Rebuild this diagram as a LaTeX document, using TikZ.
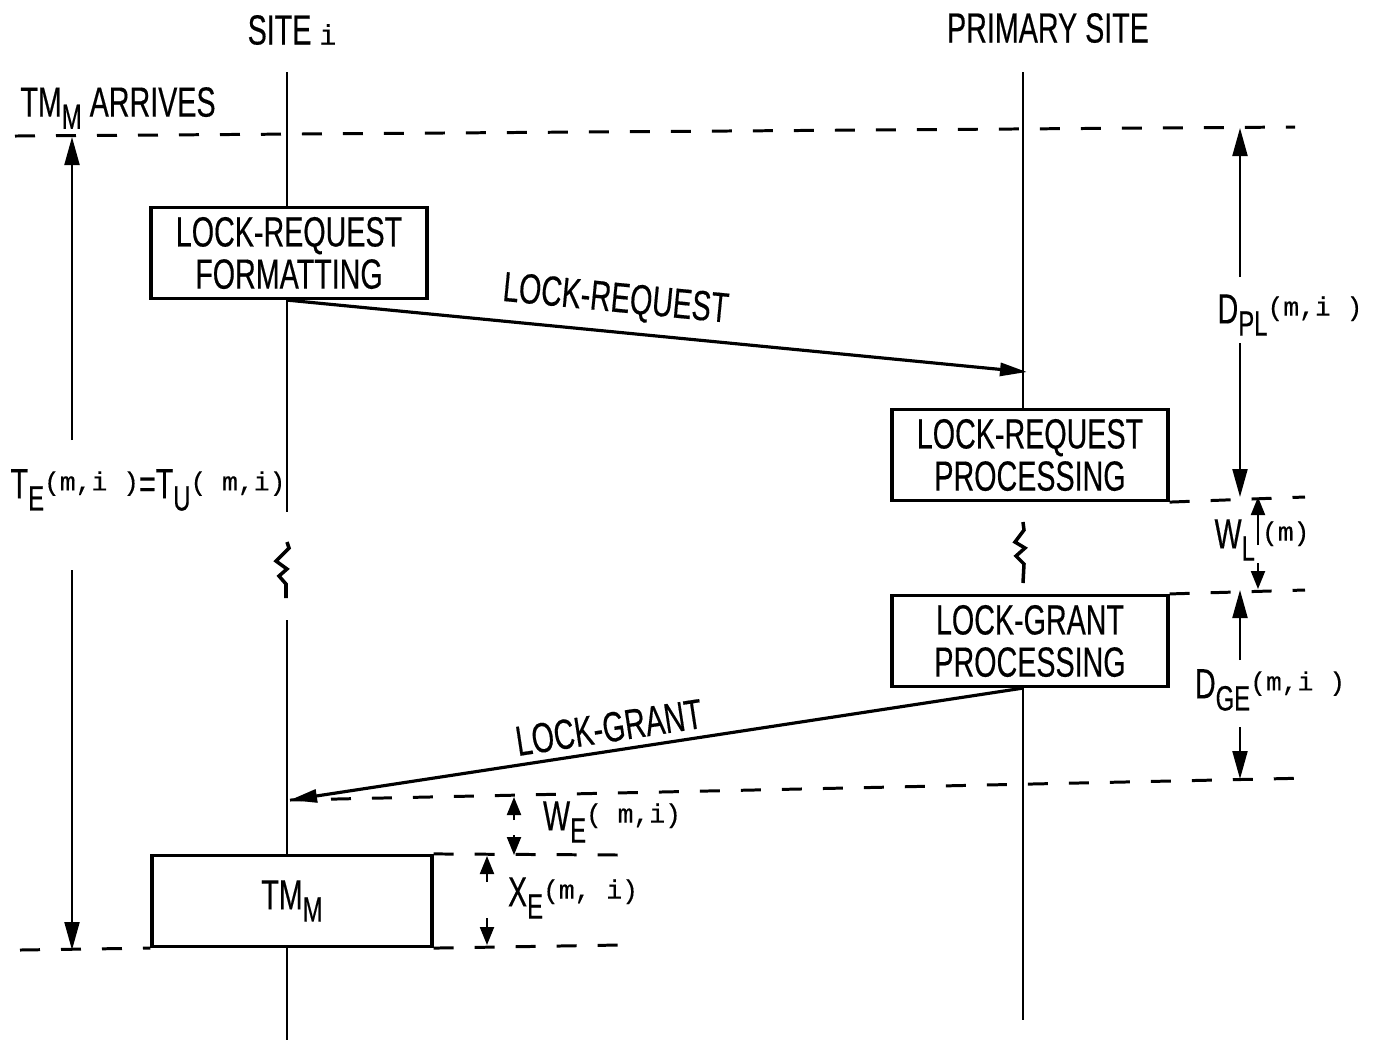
\documentclass[tikz,border=0pt]{standalone}
\usepackage{fontspec}
\setmainfont{Liberation Sans}[FakeStretch=0.68, FakeBold=0.35]
\setmonofont{Liberation Mono}[FakeBold=0.3]
\usetikzlibrary{positioning,arrows.meta,calc}

% lowered index letters and the small (m,i) arguments
\newcommand{\lo}[1]{\raisebox{-0.55ex}{\fontsize{10}{10}\selectfont #1}}
\newcommand{\mi}[1]{\raisebox{0.35ex}{\ttfamily\fontsize{7.5}{9}\selectfont #1}}

\begin{document}
\begin{tikzpicture}[
  x=0.1mm, y=-0.1mm,
  font=\fontsize{12}{12}\selectfont,
  life/.style={line width=0.65pt},
  dline/.style={line width=0.85pt, dash pattern=on 2mm off 2.1mm},
  box/.style={draw, line width=0.9pt, minimum width=27.6mm, minimum height=9.1mm, align=center, inner sep=1pt},
  msg/.style={-{Triangle[length=2.7mm, width=1.3mm]}, line width=0.9pt},
  dim/.style={-{Triangle[length=2.8mm, width=1.5mm]}, line width=0.6pt},
  sdim/.style={-{Triangle[length=1.8mm, width=1.4mm]}, line width=0.6pt},
]
\useasboundingbox (0,0) rectangle (1378,1040);

% ---------------- headers ----------------
\node (sitelbl) at (292,30) {SITE {\ttfamily\fontsize{8}{9}\selectfont i}};
\node (primlbl) at (1048,28) {PRIMARY SITE};
\node[anchor=west] (arrives) at (8,108) {TM\lo{M} ARRIVES};

% ---------------- boxes ----------------
\node[box] (fmt) at (289,253) {LOCK-REQUEST\\FORMATTING};
\node[box] (rqp) at (1030,455) {LOCK-REQUEST\\PROCESSING};
\node[box] (grp) at (1030,641) {LOCK-GRANT\\PROCESSING};
\node[box, minimum width=28mm] (tm) at (292,901) {TM\lo{M}};

% ---------------- lifelines ----------------
\coordinate (s0) at (287,72);
\coordinate (s1) at (287,512);
\coordinate (s2) at (287,620);
\coordinate (s3) at (287,1040);
\coordinate (p0) at (1023,72);
\coordinate (p3) at (1023,1020);
\draw[life] (s0) -- (s0 |- fmt.north);
\draw[life] (s0 |- fmt.south) -- (s1);
\draw[life, line width=1pt] (287,542) -- ++(2,6) -- ++(-13,13) -- ++(11,8) -- ++(-8,7) -- ++(7,8) -- (286,598);
\draw[life] (s2) -- (s2 |- tm.north);
\draw[life] (s2 |- tm.south) -- (s3);
\draw[life] (p0) -- (p0 |- rqp.north);
\draw[life, line width=1pt] (1023,522) -- ++(1,8) -- ++(-9,12) -- ++(10,6) -- ++(-9,8) -- ++(8,8) -- (1023,583);
\draw[life] (p0 |- grp.south) -- (p3);

% ---------------- messages ----------------
\coordinate (rqin) at (1027,372);
\coordinate (gin) at (290,800);
\draw[msg] (s0 |- fmt.south) -- node[pos=0.44, above, sloped, inner sep=3pt] {LOCK-REQUEST} (rqin);
\draw[msg] (p0 |- grp.south) -- node[pos=0.56, above, sloped, inner sep=2pt] {LOCK-GRANT} (gin);

% ---------------- time marks ----------------
\draw[dline] (15,136) -- (1295,127);
\draw[dline] (rqp.south east) -- (1305,497);
\draw[dline] (grp.north east) -- (1305,590);
\draw[dline] (gin) -- (1310,778);
\draw[dline] (tm.north east) -- (620,855);
\draw[dline] (20,950) -- (tm.south west);
\draw[dline] (tm.south east) -- (620,945);

% ---------------- intervals ----------------
\node (te) at (148,490) {T\lo{E}\mi{(m,i\ )}=T\lo{U}\mi{(\ m,i)}};
\draw[dim] (72,440) -- (72,137);
\draw[dim] (72,570) -- (72,950);

\node (dpl) at (1290,315) {D\lo{PL}\mi{(m,i\ )}};
\draw[dim] (1240,277) -- (1240,128);
\draw[dim] (1240,343) -- (1240,497);

\node (wl) at (1262,540) {W\lo{L}\,\mi{(m)}};
\draw[sdim] (1258,545) -- (1258,497);
\draw[sdim] (1258,563) -- (1258,589);

\node (dge) at (1270,690) {D\lo{GE}\mi{(m,i\ )}};
\draw[dim] (1240,660) -- (1240,590);
\draw[dim] (1240,727) -- (1240,779);

\node (we) at (612,822) {W\lo{E}\mi{(\ m,i)}};
\draw[sdim] (514,820) -- (514,797);
\draw[sdim] (514,835) -- (514,855);

\node (xe) at (573,898) {X\lo{E}\mi{(m,\ i)}};
\draw[sdim] (487,882) -- (487,856);
\draw[sdim] (487,918) -- (487,945);

\end{tikzpicture}
\end{document}
